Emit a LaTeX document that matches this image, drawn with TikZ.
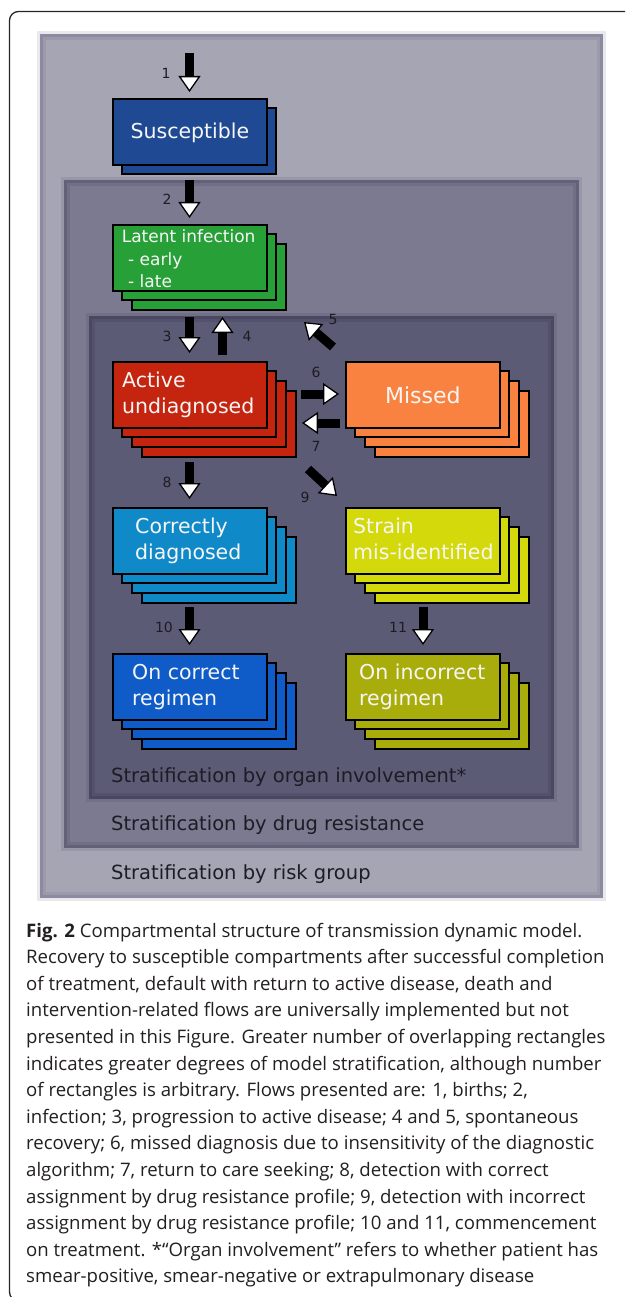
\documentclass[tikz,border=0pt]{standalone}
\usepackage{fontspec}
\setmainfont{DejaVu Sans}
\newfontfamily\capfont{Open Sans}
\usetikzlibrary{arrows.meta}
\definecolor{riskfill}{HTML}{A6A5B3}
\definecolor{riskedge}{HTML}{87859A}
\definecolor{drugfill}{HTML}{7B7A90}
\definecolor{drugedge}{HTML}{5E5C75}
\definecolor{organfill}{HTML}{5C5B75}
\definecolor{organedge}{HTML}{45435D}
\definecolor{suscol}{HTML}{1F4A93}
\definecolor{latcol}{HTML}{28A038}
\definecolor{actcol}{HTML}{C5240F}
\definecolor{miscol}{HTML}{FA8240}
\definecolor{corcol}{HTML}{1089C8}
\definecolor{strcol}{HTML}{D4D90B}
\definecolor{oncol}{HTML}{0F5BC8}
\definecolor{incol}{HTML}{A9AD0C}
\definecolor{inkcol}{HTML}{1C1C24}
\definecolor{boxtext}{HTML}{F6F6F6}
\definecolor{captext}{HTML}{231F20}
\newcommand\softedge[2]{%
  \draw[draw=#2, line width=3pt, opacity=0.18] ([shift={(-1.5,-1.5)}]#1.north west) rectangle ([shift={(1.5,1.5)}]#1.south east);
  \draw[draw=#2, line width=6pt, opacity=0.35] ([shift={(3,3)}]#1.north west) rectangle ([shift={(-3,-3)}]#1.south east);
  \draw[draw=#2, line width=3pt, opacity=0.7] ([shift={(1.5,1.5)}]#1.north west) rectangle ([shift={(-1.5,-1.5)}]#1.south east);
}
\newcommand\stackbox[5]{%
  \foreach \k in {#4,...,1}{%
    \draw[backcopy, fill=#5] ({#2+10*\k},{#3+10*\k}) rectangle ++(154,66);
  }
  \node[compbox, fill=#5, anchor=north west] (#1) at (#2,#3) {};
}
\begin{document}
\begin{tikzpicture}[x=1pt,y=-1pt,
  stratbox/.style={rectangle, draw=none, inner sep=0pt, anchor=north west},
  stratlabel/.style={anchor=base west, inner sep=0pt, text=inkcol, font=\fontsize{19.5}{24}\selectfont},
  compbox/.style={rectangle, draw=black, line width=1.8pt, minimum width=154pt, minimum height=66pt, inner sep=0pt},
  backcopy/.style={draw=black, line width=1.8pt},
  boxlabel/.style={inner sep=0pt, text=boxtext, font=\fontsize{20.5}{26}\selectfont},
  flow/.style={draw=black, line width=9pt, -{Triangle[width=22pt,length=16pt,fill=white,line width=1.3pt]}},
  flownum/.style={inner sep=0pt, text=inkcol, font=\fontsize{14}{16}\selectfont},
  capline/.style={anchor=base west, inner sep=0pt, text=captext, font=\capfont\fontsize{18.6}{22}\selectfont}]
\useasboundingbox (0,0) rectangle (625,1297);
\fill[white] (0,0) rectangle (625,1297);
\begin{scope}
  \clip (0,0) rectangle (625,1297);
  \draw[black!85, line width=1.3pt, rounded corners=9pt] (9.5,11.5) rectangle (720,1301);
\end{scope}

% stratification containers
\node[stratbox, fill=riskfill, minimum width=563pt, minimum height=864pt] (risk) at (40,34) {};
\softedge{risk}{riskedge}
\node[stratbox, fill=drugfill, minimum width=515pt, minimum height=668pt] (drug) at (64,180) {};
\softedge{drug}{drugedge}
\node[stratbox, fill=organfill, minimum width=465pt, minimum height=483pt] (organ) at (89,316) {};
\softedge{organ}{organedge}

\node[stratlabel] (organL) at (111,782) {Stratification by organ involvement*};
\node[stratlabel] (drugL) at (111,830) {Stratification by drug resistance};
\node[stratlabel] (riskL) at (111,879) {Stratification by risk group};

% compartments
\stackbox{susc}{112}{98}{1}{suscol}
\stackbox{latent}{112}{224}{2}{latcol}
\stackbox{active}{112}{361}{3}{actcol}
\stackbox{missed}{345}{361}{3}{miscol}
\stackbox{correct}{112}{507}{3}{corcol}
\stackbox{strain}{345}{507}{3}{strcol}
\stackbox{oncorrect}{112}{653}{3}{oncol}
\stackbox{onincorrect}{345}{653}{3}{incol}

\node[boxlabel] (suscT) at ([shift={(0,1)}]susc.center) {Susceptible};
\node[boxlabel, anchor=west, font=\fontsize{17}{22.5}\selectfont] (latentT) at ([shift={(9.6,3)}]latent.west)
  {\begin{tabular}{@{}l@{}}Latent infection\\\hspace{6.4pt}- early\\\hspace{6.4pt}- late\end{tabular}};
\node[boxlabel, anchor=west] (activeT) at ([shift={(10,0)}]active.west)
  {\begin{tabular}{@{}l@{}}Active\\undiagnosed\end{tabular}};
\node[boxlabel, font=\fontsize{22}{26}\selectfont] (missedT) at ([shift={(0,0)}]missed.center) {Missed};
\node[boxlabel, anchor=west] (correctT) at ([shift={(23,0)}]correct.west)
  {\begin{tabular}{@{}l@{}}Correctly\\diagnosed\end{tabular}};
\node[boxlabel, anchor=west] (strainT) at ([shift={(8,0)}]strain.west)
  {\begin{tabular}{@{}l@{}}Strain\\mis-identified\end{tabular}};
\node[boxlabel, anchor=west] (oncorrectT) at ([shift={(20,0)}]oncorrect.west)
  {\begin{tabular}{@{}l@{}}On correct\\regimen\end{tabular}};
\node[boxlabel, anchor=west] (onincorrectT) at ([shift={(14,0)}]onincorrect.west)
  {\begin{tabular}{@{}l@{}}On incorrect\\regimen\end{tabular}};

% flow end points
\coordinate (f1s) at (189.5,53);  \coordinate (f1e) at (189.5,92);
\coordinate (f2s) at (189.5,180); \coordinate (f2e) at (189.5,218);
\coordinate (f3s) at (189.5,317); \coordinate (f3e) at (189.5,353);
\coordinate (f4s) at (222.5,355); \coordinate (f4e) at (222.5,317);
\coordinate (f5s) at (333,347);   \coordinate (f5e) at (304,322);
\coordinate (f6s) at (301,394);   \coordinate (f6e) at (339,394);
\coordinate (f7s) at (340,423);   \coordinate (f7e) at (302,423);
\coordinate (f8s) at (189.5,462); \coordinate (f8e) at (189.5,499);
\coordinate (f9s) at (308,469);   \coordinate (f9e) at (337,496);
\coordinate (f10s) at (189.5,607); \coordinate (f10e) at (189.5,645);
\coordinate (f11s) at (423,607);  \coordinate (f11e) at (423,645);

\foreach \i in {1,...,11}{\draw[flow] (f\i s) -- (f\i e);}

\node[flownum] (n1) at (166,73) {1};
\node[flownum] (n2) at (167,199) {2};
\node[flownum] (n3) at (167,336) {3};
\node[flownum] (n4) at (247,336) {4};
\node[flownum] (n5) at (333,319) {5};
\node[flownum] (n6) at (316,372) {6};
\node[flownum] (n7) at (316,446) {7};
\node[flownum] (n8) at (167,482) {8};
\node[flownum] (n9) at (305,497) {9};
\node[flownum] (n10) at (164,627) {10};
\node[flownum] (n11) at (398,627) {11};

% caption
\node[capline] (c1) at (26,937.0) {\textbf{Fig. 2} Compartmental structure of transmission dynamic model.};
\node[capline] (c2) at (26,963.6) {Recovery to susceptible compartments after successful completion};
\node[capline] (c3) at (26,990.2) {of treatment, default with return to active disease, death and};
\node[capline] (c4) at (26,1016.8) {intervention-related flows are universally implemented but not};
\node[capline] (c5) at (26,1043.4) {presented in this Figure. Greater number of overlapping rectangles};
\node[capline] (c6) at (26,1070.0) {indicates greater degrees of model stratification, although number};
\node[capline] (c7) at (26,1096.6) {of rectangles is arbitrary. Flows presented are: 1, births; 2,};
\node[capline] (c8) at (26,1123.2) {infection; 3, progression to active disease; 4 and 5, spontaneous};
\node[capline] (c9) at (26,1149.8) {recovery; 6, missed diagnosis due to insensitivity of the diagnostic};
\node[capline] (c10) at (26,1176.4) {algorithm; 7, return to care seeking; 8, detection with correct};
\node[capline] (c11) at (26,1203.0) {assignment by drug resistance profile; 9, detection with incorrect};
\node[capline] (c12) at (26,1229.6) {assignment by drug resistance profile; 10 and 11, commencement};
\node[capline] (c13) at (26,1256.2) {on treatment. *“Organ involvement” refers to whether patient has};
\node[capline] (c14) at (26,1282.8) {smear-positive, smear-negative or extrapulmonary disease};
\end{tikzpicture}
\end{document}
